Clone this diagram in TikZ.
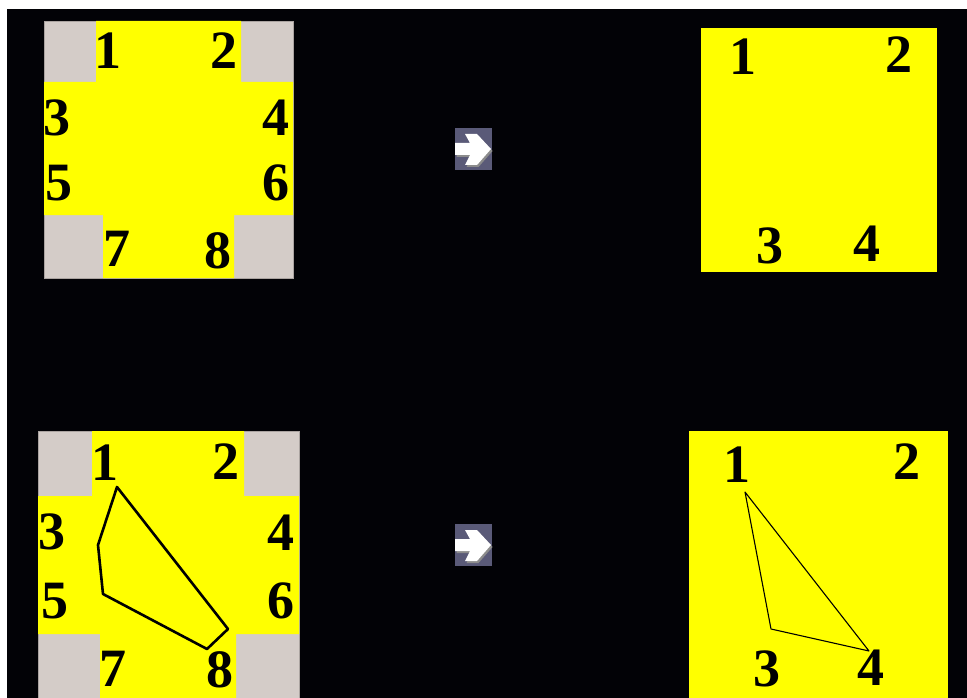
\documentclass[tikz,border=0pt]{standalone}
\usepackage{fontspec}
\setmainfont{Liberation Serif}
\definecolor{padgray}{HTML}{D4CCC8}
\definecolor{padyel}{HTML}{FFFF00}
\definecolor{btnblue}{HTML}{5A5A78}
\definecolor{bgblack}{HTML}{020206}
\begin{document}
\begin{tikzpicture}[x=1pt, y=-1pt, inner sep=0pt,
    num/.style={font=\fontsize{54}{54}\selectfont\bfseries, text=black},
    corner/.style={fill=padgray, draw=padgray!80!black, line width=.6pt},
    arrowbox/.style={fill=btnblue}]
   \useasboundingbox (0,0) rectangle (967,698);
   \fill[white] (0,0) rectangle (967,698);
   \fill[bgblack] (7,9) rectangle (967,698);

   % top left: eight pads
   \fill[corner] (44,21) rectangle (293,278);
   \fill[padyel] (96,21) -- (241,21) -- (241,82) -- (293,82) -- (293,215) -- (234,215)
      -- (234,278) -- (103,278) -- (103,215) -- (44,215) -- (44,82) -- (96,82) -- cycle;
   \node[num] (a1) at (108,51) {1};
   \node[num] (a2) at (224,51) {2};
   \node[num] (a3) at (57,118) {3};
   \node[num] (a4) at (276,118) {4};
   \node[num] (a5) at (59,183) {5};
   \node[num] (a6) at (276,183) {6};
   \node[num] (a7) at (117,249) {7};
   \node[num] (a8) at (218,251) {8};

   % top right: four pads
   \fill[padyel] (701,28) rectangle (937,272);
   \node[num] (b1) at (743,57) {1};
   \node[num] (b2) at (899,55) {2};
   \node[num] (b3) at (770,246) {3};
   \node[num] (b4) at (867,244) {4};

   % bottom left
   \fill[corner] (38,431) rectangle (299,698);
   \fill[padyel] (92,431) -- (244,431) -- (244,496) -- (299,496) -- (299,634) -- (236,634)
      -- (236,698) -- (100,698) -- (100,634) -- (38,634) -- (38,496) -- (92,496) -- cycle;
   \node[num] (c1) at (105,463) {1};
   \node[num] (c2) at (226,462) {2};
   \node[num] (c3) at (52,532) {3};
   \node[num] (c4) at (281,533) {4};
   \node[num] (c5) at (55,601) {5};
   \node[num] (c6) at (281,601) {6};
   \node[num] (c7) at (113,669) {7};
   \node[num] (c8) at (220,670) {8};
   \coordinate (p1) at (117,487);
   \coordinate (p2) at (98,545);
   \coordinate (p3) at (103,594);
   \coordinate (p4) at (207,649);
   \coordinate (p5) at (228,629);
   \draw[line width=2.6pt, line join=round] (p1) -- (p2) -- (p3) -- (p4) -- (p5) -- cycle;

   % bottom right
   \fill[padyel] (689,431) rectangle (948,698);
   \node[num] (d1) at (737,465) {1};
   \node[num] (d2) at (907,462) {2};
   \node[num] (d3) at (767,669) {3};
   \node[num] (d4) at (871,668) {4};
   \coordinate (q1) at (745,492);
   \coordinate (q3) at (771,629);
   \coordinate (q4) at (869,651);
   \draw[line width=1.1pt, line join=round] (q1) -- (q3) -- (q4) -- cycle;

   % arrow buttons
   \foreach \y in {128,524} {
      \fill[arrowbox] (455,\y) rectangle ++(37,42);
      \fill[black!45, shift={(1.5,2)}] (455,\y+15) -- ++(15,0) -- ++(-5,-9) -- ++(12,0)
         -- ++(14,15) -- ++(-14,16) -- ++(-12,0) -- ++(5,-10) -- ++(-15,0) -- cycle;
      \fill[white] (455,\y+15) -- ++(15,0) -- ++(-5,-9) -- ++(12,0)
         -- ++(14,15) -- ++(-14,16) -- ++(-12,0) -- ++(5,-10) -- ++(-15,0) -- cycle;
   }
\end{tikzpicture}
\end{document}
